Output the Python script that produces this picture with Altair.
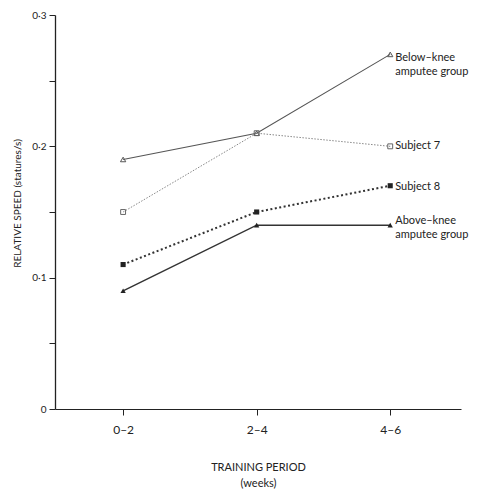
import altair as alt
import pandas as pd

periods = ["0-2", "2-4", "4-6"]
period_pos = [1, 2, 3]
series_names = ["Below-knee amputee group", "Subject 7", "Subject 8", "Above-knee amputee group"]
below_knee = [0.19, 0.21, 0.27]
subject7 = [0.15, 0.21, 0.20]
subject8 = [0.11, 0.15, 0.17]
above_knee = [0.09, 0.14, 0.14]
label_lines = [["Below–knee", "amputee group"], ["Subject 7"], ["Subject 8"], ["Above–knee", "amputee group"]]
y_ticks = [0, 0.025, 0.05, 0.075, 0.1, 0.125, 0.15, 0.175, 0.2, 0.225, 0.25, 0.275, 0.3]

values = [below_knee, subject7, subject8, above_knee]

styles = [
    dict(line=dict(strokeWidth=1.1, color="#555"), point=dict(shape="triangle-up", filled=False, size=28, color="#555")),
    dict(line=dict(strokeWidth=1.0, color="#888", strokeDash=[1.5, 1.5]), point=dict(shape="square", filled=False, size=24, color="#666")),
    dict(line=dict(strokeWidth=2.0, color="#333", strokeDash=[2, 2.5]), point=dict(shape="square", filled=True, size=26, color="#222")),
    dict(line=dict(strokeWidth=1.5, color="#333"), point=dict(shape="triangle-up", filled=True, size=28, color="#222")),
]
text_cfg = [
    dict(baseline="bottom", dy=9),
    dict(baseline="middle", dy=0),
    dict(baseline="middle", dy=1),
    dict(baseline="top", dy=-10),
]

label_expr = ("datum.value == 0 ? '0' : (abs(datum.value*10 - round(datum.value*10)) < 0.001 ? "
              "replace(format(datum.value, '.1f'), '.', '·') : '')")
x_expr = "datum.value == 1 ? '0–2' : datum.value == 2 ? '2–4' : datum.value == 3 ? '4–6' : ''"

x_enc = alt.X("x:Q", scale=alt.Scale(domain=[0.49, 3.53], nice=False, zero=False),
              axis=alt.Axis(values=period_pos, labelExpr=x_expr, title=["TRAINING   PERIOD", "(weeks)"],
                            grid=False, tickSize=6, labelPadding=9, titlePadding=26,
                            labelFontSize=12, titleFontSize=11, titleFontWeight="normal",
                            domainColor="#222", tickColor="#222", labelColor="#222", titleColor="#222",
                            titleX=203, titleLineHeight=16))
y_enc = alt.Y("y:Q", scale=alt.Scale(domain=[0, 0.3], nice=False),
              axis=alt.Axis(values=y_ticks, labelExpr=label_expr, title="RELATIVE  SPEED   (statures/s)",
                            grid=False, tickSize=6, labelPadding=3, titlePadding=9, titleY=188,
                            labelFontSize=10, titleFontSize=10, titleFontWeight="normal",
                            domainColor="#222", tickColor="#222", labelColor="#222", titleColor="#222",
                            domainWidth=1.3))

layers = []
for i, name in enumerate(series_names):
    df = pd.DataFrame({"x": period_pos, "y": values[i], "period": periods, "series": name})
    base = alt.Chart(df)
    enc = dict(x=x_enc, y=y_enc) if i == 0 else dict(x="x:Q", y="y:Q")
    layers.append(base.mark_line(**styles[i]["line"]).encode(**enc))
    layers.append(base.mark_point(strokeWidth=1, opacity=1, **styles[i]["point"]).encode(x="x:Q", y="y:Q"))
    tdf = pd.DataFrame({"x": [period_pos[-1]], "y": [values[i][-1]], "label": [label_lines[i]]})
    layers.append(alt.Chart(tdf).mark_text(align="left", dx=5, fontSize=11, lineHeight=14,
                                           color="#222", font="Lato", **text_cfg[i])
                  .encode(x="x:Q", y="y:Q", text="label"))

chart = alt.layer(*layers).properties(
    width=406, height=394,
    autosize=alt.AutoSizeParams(type="none"),
    padding={"left": 47, "top": 7, "right": 10, "bottom": 82},
).configure_view(stroke=None).configure_axis(labelFont="Lato", titleFont="Lato")

chart.save("out.html", embed_options={"renderer": "svg", "actions": False})
